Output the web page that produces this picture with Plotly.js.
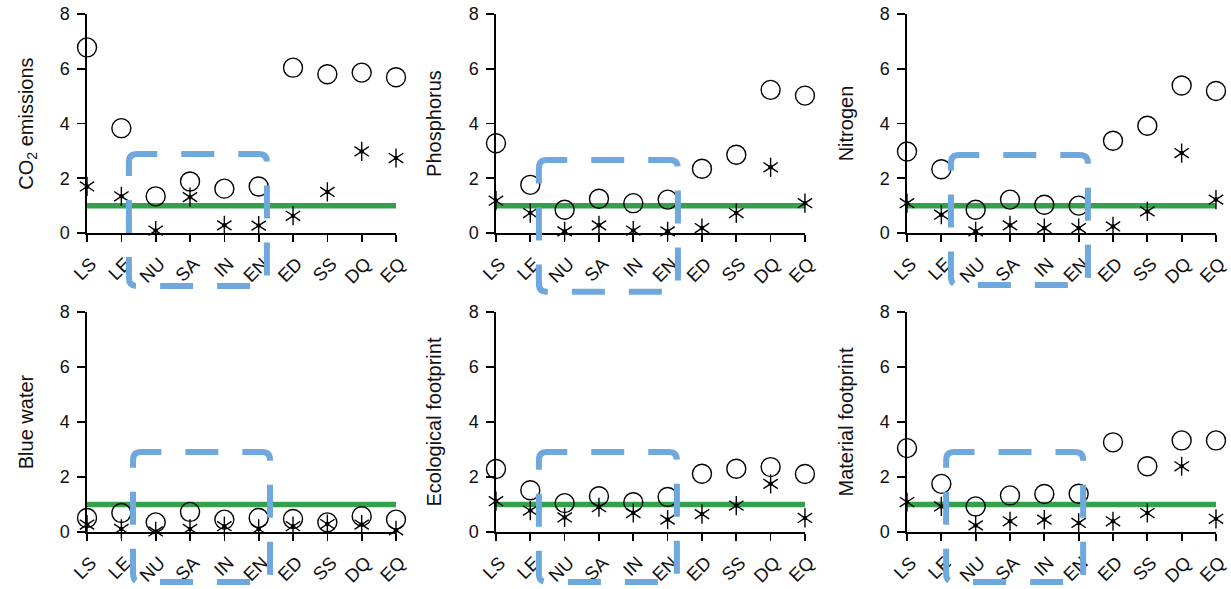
<!DOCTYPE html>
<html>
<head>
<meta charset="utf-8">
<script src="https://cdn.plot.ly/plotly-3.0.1.min.js"></script>
<style>html,body{margin:0;padding:0;background:#fff;}#chart{width:1231px;height:589px;}</style>
</head>
<body>
<div id="chart"></div>
<script>
// ---- data ----
const categories = ['LS','LE','NU','SA','IN','EN','ED','SS','DQ','EQ'];
const panelTitles = ['CO<sub>2</sub> emissions','Phosphorus','Nitrogen','Blue water','Ecological footprint','Material footprint'];
const threshold = 1;

const co2Circle   = [6.78, 3.83, 1.34, 1.88, 1.62, 1.70, 6.04, 5.80, 5.86, 5.69];
const co2Star     = [1.70, 1.34, 0.09, 1.31, 0.28, 0.27, 0.63, 1.50, 2.98, 2.74];
const phosCircle  = [3.28, 1.76, 0.85, 1.25, 1.09, 1.22, 2.35, 2.86, 5.23, 5.02];
const phosStar    = [1.18, 0.73, 0.06, 0.28, 0.09, 0.06, 0.18, 0.73, 2.40, 1.09];
const nitCircle   = [2.98, 2.33, 0.85, 1.22, 1.03, 1.00, 3.37, 3.92, 5.39, 5.19];
const nitStar     = [1.09, 0.67, 0.06, 0.28, 0.18, 0.18, 0.24, 0.79, 2.92, 1.22];
const waterCircle = [0.51, 0.69, 0.35, 0.73, 0.45, 0.51, 0.47, 0.35, 0.57, 0.45];
const waterStar   = [0.27, 0.11, 0.02, 0.11, 0.21, 0.11, 0.21, 0.29, 0.27, 0.06];
const ecoCircle   = [2.29, 1.52, 1.05, 1.30, 1.08, 1.27, 2.12, 2.30, 2.36, 2.11];
const ecoStar     = [1.12, 0.78, 0.53, 0.90, 0.69, 0.45, 0.65, 0.96, 1.75, 0.51];
const matCircle   = [3.05, 1.75, 0.93, 1.33, 1.38, 1.39, 3.26, 2.39, 3.33, 3.33];
const matStar     = [1.09, 0.93, 0.24, 0.39, 0.45, 0.33, 0.39, 0.69, 2.39, 0.48];

const circleSeries = [co2Circle, phosCircle, nitCircle, waterCircle, ecoCircle, matCircle];
const starSeries   = [co2Star, phosStar, nitStar, waterStar, ecoStar, matStar];

// ---- layout config (positions / styles) ----
const W = 1231, H = 589;
const xDomains = [[0.0707,0.3217],[0.4029,0.6539],[0.7368,0.9878]];
const yDomains = [[0.6044,0.9762],[0.0968,0.4703]];
const xRange = [0, 9], yRange = [0, 8];
// highlight boxes in axis units: [x0, x1, y0, y1]
const boxes = [
  [1.22, 5.24, -1.94, 2.89],
  [1.25, 5.30, -2.15, 2.67],
  [1.28, 5.27, -1.90, 2.85],
  [1.34, 5.33, -1.82, 2.91],
  [1.25, 5.27, -1.82, 2.91],
  [1.14, 5.13, -1.82, 2.91]
];
const FONT = 'Liberation Sans, Arial, sans-serif';
const GREEN = '#35a04b';
const BLUE = '#6fa8dc';

const traces = [];
const layout = {
  width: W, height: H,
  margin: {l:0, r:0, t:0, b:0},
  paper_bgcolor: '#ffffff',
  plot_bgcolor: 'rgba(0,0,0,0)',
  showlegend: false,
  font: {family: FONT, color: '#000', size: 18},
  shapes: []
};

for (let i = 0; i < 6; i++) {
  const row = Math.floor(i / 3), col = i % 3;
  const n = i + 1;
  const xa = 'x' + (n === 1 ? '' : n), ya = 'y' + (n === 1 ? '' : n);
  const xKey = 'xaxis' + (n === 1 ? '' : n), yKey = 'yaxis' + (n === 1 ? '' : n);

  layout[xKey] = {
    domain: xDomains[col], anchor: ya, type: 'category',
    range: xRange, showgrid: false, zeroline: false,
    showline: true, linecolor: '#000', linewidth: 1.7,
    ticks: 'outside', ticklen: 7, tickwidth: 1.7, tickcolor: '#000',
    tickangle: -45, tickfont: {family: FONT, size: 18.5, color: '#111'},
    ticklabelstandoff: 4, ticklabelshift: 4,
    categoryorder: 'array', categoryarray: categories,
    fixedrange: true, automargin: false
  };
  layout[yKey] = {
    domain: yDomains[row], anchor: xa,
    range: yRange, showgrid: false, zeroline: false,
    showline: true, linecolor: '#000', linewidth: 1.7,
    ticks: 'outside', ticklen: 8, tickwidth: 1.7, tickcolor: '#000',
    tickvals: [0,2,4,6,8], tickfont: {family: FONT, size: 18, color: '#111'},
    ticklabelstandoff: 4,
    title: {text: panelTitles[i], font: {family: FONT, size: 20, color: '#111'}, standoff: 21},
    fixedrange: true, automargin: false
  };

  // threshold line
  traces.push({
    type: 'scatter', mode: 'lines', xaxis: xa, yaxis: ya,
    x: [categories[0], categories[categories.length - 1]], y: [threshold, threshold],
    line: {color: GREEN, width: 5.5}, hoverinfo: 'skip', cliponaxis: false
  });
  // circles
  traces.push({
    type: 'scatter', mode: 'markers', xaxis: xa, yaxis: ya,
    x: categories, y: circleSeries[i], cliponaxis: false,
    marker: {symbol: 'circle-open', size: 19, color: '#000', line: {width: 1.4, color: '#000'}}
  });
  // six-armed asterisks = y-up + y-down + centre dot
  ['y-up-open', 'y-down-open'].forEach(sym => traces.push({
    type: 'scatter', mode: 'markers', xaxis: xa, yaxis: ya,
    x: categories, y: starSeries[i], cliponaxis: false,
    marker: {symbol: sym, size: 12, color: '#000', line: {width: 1.4, color: '#000'}}
  }));
  traces.push({
    type: 'scatter', mode: 'markers', xaxis: xa, yaxis: ya,
    x: categories, y: starSeries[i], cliponaxis: false,
    marker: {symbol: 'circle', size: 4.5, color: '#000', line: {width: 0}}
  });

  // dashed rounded highlight box (paper coords so it is not clipped)
  const b = boxes[i];
  const dx = xDomains[col], dy = yDomains[row];
  const px = v => dx[0] + (v - xRange[0]) / (xRange[1] - xRange[0]) * (dx[1] - dx[0]);
  const py = v => dy[0] + (v - yRange[0]) / (yRange[1] - yRange[0]) * (dy[1] - dy[0]);
  const x0 = px(b[0]), x1 = px(b[1]), yb = py(b[2]), yt = py(b[3]);
  const rx = 8 / W, ry = 8 / H;
  const path = `M${x0},${yt - ry} Q${x0},${yt} ${x0 + rx},${yt} L${x1 - rx},${yt} Q${x1},${yt} ${x1},${yt - ry} ` +
               `L${x1},${yb + ry} Q${x1},${yb} ${x1 - rx},${yb} L${x0 + rx},${yb} Q${x0},${yb} ${x0},${yb + ry} Z`;
  layout.shapes.push({
    type: 'path', xref: 'paper', yref: 'paper', path: path, layer: 'above',
    line: {color: BLUE, width: 6, dash: '33px,24px'}, fillcolor: 'rgba(0,0,0,0)'
  });
}

Plotly.newPlot('chart', traces, layout, {staticPlot: true, displayModeBar: false});
</script>
</body>
</html>
